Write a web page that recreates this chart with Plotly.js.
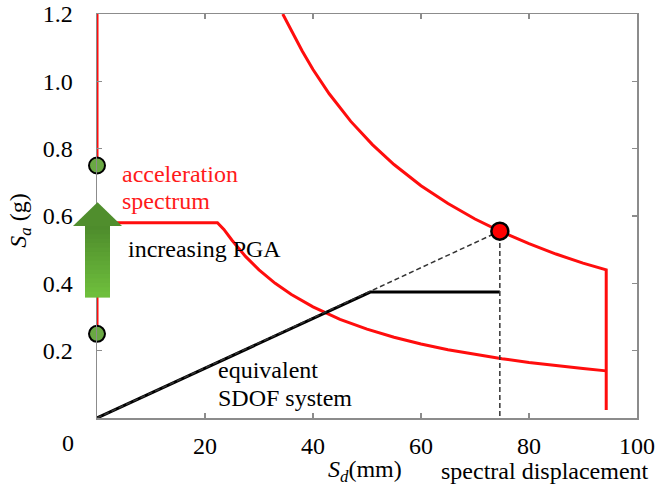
<!DOCTYPE html>
<html>
<head>
<meta charset="utf-8">
<script src="https://cdn.plot.ly/plotly-3.0.1.min.js"></script>
<style>
html,body{margin:0;padding:0;background:#fff}
#chart{width:657px;height:492px}
#chart svg text{font-family:'Liberation Serif',serif !important}
</style>
</head>
<body>
<div id="chart"></div>
<script>
// ---- data ----
const upperSd = [0, 0, null, 34.4, 36, 38, 40, 43, 47, 51, 55, 60, 65, 70, 74.6, 80, 85, 90, 94.3, 94.3];
const upperSa = [0.75, 1.2, null, 1.2, 1.15, 1.09, 1.035, 0.963, 0.881, 0.812, 0.753, 0.69, 0.637, 0.591, 0.555, 0.518, 0.487, 0.46, 0.44, 0.024];
const lowerSd = [0, 0, 22.3, 23.5, 25, 27.5, 30, 33, 36, 40, 45, 50, 55, 60, 65, 70, 75, 80, 85, 90, 94.3];
const lowerSa = [0.25, 0.58, 0.58, 0.56, 0.528, 0.48, 0.44, 0.40, 0.367, 0.33, 0.293, 0.264, 0.24, 0.22, 0.203, 0.189, 0.176, 0.165, 0.155, 0.147, 0.14];
const sdofSd = [0, 50.6, 74.6];
const sdofSa = [0, 0.374, 0.374];
const demandSd = [0, 74.6, 74.6];
const demandSa = [0, 0.555, 0];
const perfSd = [74.6];
const perfSa = [0.555];
const pgaSd = [0, 0];
const pgaSa = [0.25, 0.75];
const xTickVals = [20, 40, 60, 80, 100];
const xTickText = ['20', '40', '60', '80', '100'];
const yTickVals = [0.2, 0.4, 0.6, 0.8, 1.0, 1.2];
const yTickText = ['0.2', '0.4', '0.6', '0.8', '1.0', '1.2'];
const arrowBottomSa = 0.36, arrowHeadBaseSa = 0.57, arrowTipSa = 0.641;

const FONT = 'Liberation Serif';
const FS = 24;
const Y_MAX = 1.2;
const yp = v => v / Y_MAX;

const traces = [
  {x: lowerSd, y: lowerSa, mode: 'lines', line: {color: '#ff0d0d', width: 3}, cliponaxis: false, hoverinfo: 'skip'},
  {x: upperSd, y: upperSa, mode: 'lines', line: {color: '#ff0d0d', width: 3}, cliponaxis: false, hoverinfo: 'skip'},
  {x: sdofSd, y: sdofSa, mode: 'lines', line: {color: '#000', width: 3}, cliponaxis: false, hoverinfo: 'skip'},
  {x: demandSd, y: demandSa, mode: 'lines', line: {color: '#333', width: 1.5, dash: '5px,3px'}, cliponaxis: false, hoverinfo: 'skip'},
  {x: perfSd, y: perfSa, mode: 'markers', marker: {size: 17, color: '#ff0000', line: {color: '#000', width: 2.5}}, cliponaxis: false, hoverinfo: 'skip'},
  {x: pgaSd, y: pgaSa, mode: 'markers', marker: {size: 16, color: '#6aa843', line: {color: '#000', width: 2}}, cliponaxis: false, hoverinfo: 'skip'}
];

// green arrow (gradient shaft made of slices)
const shapes = [];
const shaftL = -0.0222, shaftR = 0.0241;
const nSlices = 16;
const c0 = [78, 140, 44], c1 = [110, 190, 60];
for (let i = 0; i < nSlices; i++) {
  const t = i / (nSlices - 1);
  const y0 = arrowHeadBaseSa - (arrowHeadBaseSa - arrowBottomSa) * i / nSlices;
  const y1 = arrowHeadBaseSa - (arrowHeadBaseSa - arrowBottomSa) * (i + 1) / nSlices;
  const col = 'rgb(' + c0.map((c, k) => Math.round(c + (c1[k] - c) * t)).join(',') + ')';
  shapes.push({type: 'rect', xref: 'paper', yref: 'paper', x0: shaftL, x1: shaftR,
    y0: yp(y1) - 0.002, y1: yp(y0) + 0.002, fillcolor: col, line: {width: 0}, layer: 'above'});
}
shapes.push({type: 'path', xref: 'paper', yref: 'paper', layer: 'above',
  path: 'M -0.0444 ' + yp(arrowHeadBaseSa) + ' L 0.001 ' + yp(arrowTipSa) + ' L 0.0463 ' + yp(arrowHeadBaseSa) + ' Z',
  fillcolor: 'rgb(80,142,45)', line: {width: 0}});

const ann = (text, x, y, opts) => Object.assign({text, xref: 'paper', yref: 'paper', x, y, showarrow: false,
  xanchor: 'left', yanchor: 'middle', font: {family: FONT, size: FS, color: '#000'}}, opts || {});

const annotations = [
  ann('acceleration', 0.0423, 0.605, {font: {family: FONT, size: FS, color: '#ff1a1a'}}),
  ann('spectrum', 0.0423, 0.538, {font: {family: FONT, size: FS, color: '#ff1a1a'}}),
  ann('increasing PGA', 0.053, 0.418),
  ann('equivalent', 0.2206, 0.12),
  ann('SDOF system', 0.2206, 0.05),
  ann('0', -0.054, -0.063, {xanchor: 'center'}),
  ann('<i>S</i><sub><i>d</i></sub>(mm)', 0.496, -0.13, {xanchor: 'center'}),
  ann('spectral displacement', 0.829, -0.13, {xanchor: 'center'}),
  ann('<i>S</i><sub><i>a</i></sub> (g)', -0.143, 0.488, {xanchor: 'center', textangle: -90})
];

const axisCommon = {showline: true, linecolor: '#8c8c8c', linewidth: 1.5, mirror: 'ticks',
  ticks: 'inside', ticklen: 5, tickwidth: 1.5, tickcolor: '#8c8c8c', showgrid: false, zeroline: false,
  tickfont: {family: FONT, size: FS, color: '#000'}, tickmode: 'array', fixedrange: true};

const layout = {
  width: 657, height: 492,
  margin: {l: 97, r: 20, t: 14, b: 74},
  paper_bgcolor: '#fff', plot_bgcolor: '#fff',
  showlegend: false,
  xaxis: Object.assign({}, axisCommon, {range: [0, 100], tickvals: xTickVals, ticktext: xTickText, ticklabelstandoff: 6}),
  yaxis: Object.assign({}, axisCommon, {range: [0, Y_MAX], tickvals: yTickVals, ticktext: yTickText, ticklabelstandoff: 18}),
  shapes, annotations
};

Plotly.newPlot('chart', traces, layout, {displayModeBar: false, staticPlot: true});
</script>
</body>
</html>
